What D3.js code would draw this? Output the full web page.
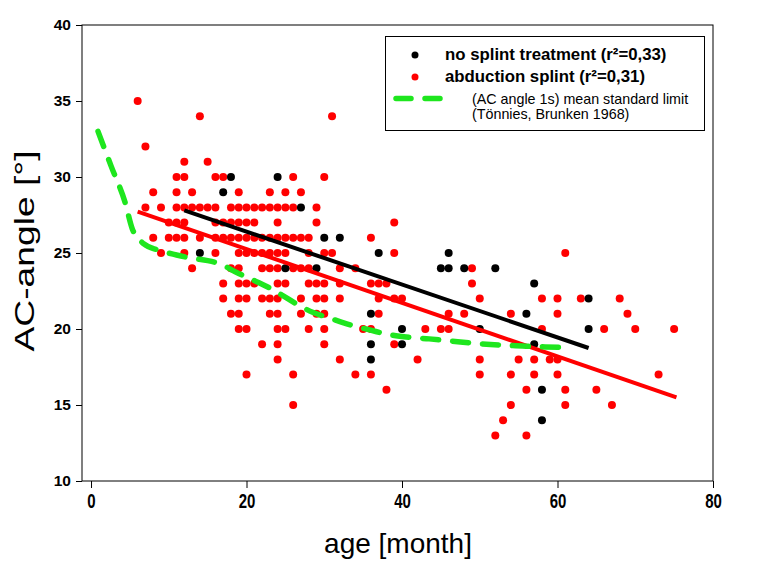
<!DOCTYPE html>
<html><head><meta charset="utf-8">
<script src="https://cdn.jsdelivr.net/npm/d3@7"></script>
<style>body{margin:0;background:#fff}svg{display:block}text{font-family:Arial,"Liberation Sans",sans-serif}</style>
</head><body>
<svg id="c" width="767" height="564"></svg>
<script>
// ---- data ----
const xTicks = [0, 20, 40, 60, 80];
const yTicks = [10, 15, 20, 25, 30, 35, 40];
// no splint treatment (black)
const noSplintAge   = [18,24,17,27,14,30,32,25,29,37,46,45,46,48,52,57,64,36,56,40,50,64,36,40,57,36,58,58];
const noSplintAngle = [30,30,29,28,25,26,26,24,24,25,25,24,24,24,24,23,22,21,21,20,20,20,19,19,19,18,16,14];
// abduction splint (red), grouped by angle row
const splintRows = [
  [35, [6]],
  [34, [14,31]],
  [32, [7]],
  [31, [12,15]],
  [30, [11,12,16,17,26,30]],
  [29, [8,11,13,19,23,25,27]],
  [28, [7,9,11,12,13,14,15,16,18,19,20,21,22,23,24,25,26,29]],
  [27, [10,11,12,16,17,18,19,20,21,24,29,39]],
  [26, [8,10,11,12,14,16,17,18,19,20,21,22,23,24,25,26,27,28,36]],
  [25, [9,12,16,19,20,21,22,23,24,25,28,30,31,39,61]],
  [24, [13,18,19,22,23,24,26,27,28,32,34,49]],
  [23, [17,19,20,21,24,25,28,29,30,32,36,37,38,49]],
  [22, [17,19,20,22,23,24,27,29,30,32,37,39,40,50,58,60,63,68]],
  [21, [18,19,23,24,27,29,30,37,46,48,54,60,69]],
  [20, [19,20,24,25,28,30,35,36,43,45,46,58,66,70,75]],
  [19, [22,24,30,39]],
  [18, [24,32,42,50,55,57,59,60]],
  [17, [20,26,34,36,50,54,57,60,73]],
  [16, [38,56,61,65]],
  [15, [26,54,61,67]],
  [14, [53]],
  [13, [52,56]]
];
// regression lines
const regNoSplintAge = [12, 64],  regNoSplintAngle = [27.8, 18.75];
const regSplintAge   = [6, 75.3], regSplintAngle   = [27.72, 15.5];
// standard limit curve (Tönnies, Brunken 1968)
const limitAge   = [0.9,2.6,4.4,5.3,6.8,8.6,11,13,15,16.5,18.8,20.5,22.6,24.5,26.6,28.5,30.5,32.5,34.6,36.5,38.7,41,43.5,46.5,49.5,52.5,55.5,58.4,60.5];
const limitAngle = [33,30.7,28.3,26.6,25.6,25.2,24.87,24.65,24.5,24.3,23.7,23.3,22.8,22.25,21.6,21.1,20.75,20.4,20.1,19.85,19.6,19.45,19.35,19.2,19.05,18.95,18.88,18.82,18.8];

const legendLabels = ["no splint treatment (r\u00b2=0,33)", "abduction splint (r\u00b2=0,31)",
  "(AC angle 1s) mean standard limit", "(T\u00f6nnies, Brunken 1968)"];

// ---- chart ----
const svg = d3.select("#c");
const L = 82, R = 713, T = 25, B = 481;
const x = d3.scaleLinear().domain([-1.16, 80]).range([L, R]);
const y = d3.scaleLinear().domain([10, 40]).range([B, T]);
const RED = "#ff0000", GREEN = "#1ee61e";

// frame
svg.append("rect").attr("x", L).attr("y", T).attr("width", R - L).attr("height", B - T)
  .attr("fill", "none").attr("stroke", "#000").attr("stroke-width", 1);

// axes
const gx = svg.append("g").attr("transform", `translate(0,${B})`)
  .call(d3.axisBottom(x).tickValues(xTicks).tickSize(7).tickSizeOuter(0).tickFormat(d3.format("d")));
gx.select(".domain").remove();
gx.selectAll("text").attr("font-size", 15).attr("font-weight", "bold").attr("fill", "#000")
  .attr("dy", 0).attr("y", 0)
  .attr("transform", "translate(0,27) scale(1,1.35)");
const gy = svg.append("g").attr("transform", `translate(${L},0)`)
  .call(d3.axisLeft(y).tickValues(yTicks).tickSize(6).tickSizeOuter(0));
gy.select(".domain").remove();
gy.selectAll("text").attr("font-size", 15.5).attr("font-weight", "bold").attr("fill", "#000").attr("x", -11);
svg.selectAll(".tick line").attr("stroke", "#000");

// titles
svg.append("text").attr("x", 398).attr("y", 553).attr("text-anchor", "middle")
  .attr("font-size", 28).text("age [month]");
svg.append("text").attr("transform", "translate(34,251) rotate(-90) scale(1.38,1)")
  .attr("text-anchor", "middle").attr("font-size", 27).text("AC-angle [\u00b0]");

// points
const splintPts = [];
splintRows.forEach(([ang, ages]) => ages.forEach(a => splintPts.push([a, ang])));
const noSplintPts = noSplintAge.map((a, i) => [a, noSplintAngle[i]]);
const plot = svg.append("g");
plot.selectAll(".r").data(splintPts).join("circle").attr("class", "r")
  .attr("cx", d => x(d[0])).attr("cy", d => y(d[1])).attr("r", 4).attr("fill", RED);
plot.selectAll(".k").data(noSplintPts).join("circle").attr("class", "k")
  .attr("cx", d => x(d[0])).attr("cy", d => y(d[1])).attr("r", 4).attr("fill", "#000");

// regression lines
const line = d3.line().x(d => x(d[0])).y(d => y(d[1]));
svg.append("path").attr("d", line(regNoSplintAge.map((a, i) => [a, regNoSplintAngle[i]])))
  .attr("stroke", "#000").attr("stroke-width", 4).attr("fill", "none");
svg.append("path").attr("d", line(regSplintAge.map((a, i) => [a, regSplintAngle[i]])))
  .attr("stroke", RED).attr("stroke-width", 4).attr("fill", "none");

// limit curve
const curve = d3.line().x(d => x(d[0])).y(d => y(d[1])).curve(d3.curveMonotoneX);
svg.append("path").attr("d", curve(limitAge.map((a, i) => [a, limitAngle[i]])))
  .attr("stroke", GREEN).attr("stroke-width", 5.5).attr("fill", "none")
  .attr("stroke-linecap", "round").attr("stroke-dasharray", "16,14");

// legend
const lg = svg.append("g");
lg.append("rect").attr("x", 385.5).attr("y", 36.5).attr("width", 319).attr("height", 94)
  .attr("fill", "#fff").attr("stroke", "#000").attr("stroke-width", 1);
lg.append("circle").attr("cx", 415).attr("cy", 55).attr("r", 3.5).attr("fill", "#000");
lg.append("circle").attr("cx", 415).attr("cy", 77).attr("r", 3.5).attr("fill", RED);
lg.append("line").attr("x1", 396).attr("x2", 446).attr("y1", 98.5).attr("y2", 98.5)
  .attr("stroke", GREEN).attr("stroke-width", 5.5).attr("stroke-linecap", "round").attr("stroke-dasharray", "15,14");
lg.append("text").attr("x", 445).attr("y", 60).attr("font-size", 16.8).attr("font-weight", "bold").text(legendLabels[0]);
lg.append("text").attr("x", 445).attr("y", 82).attr("font-size", 16.8).attr("font-weight", "bold").text(legendLabels[1]);
lg.append("text").attr("x", 472).attr("y", 104).attr("font-size", 14.3).text(legendLabels[2]);
lg.append("text").attr("x", 472).attr("y", 119).attr("font-size", 14.3).text(legendLabels[3]);
</script>
</body></html>
